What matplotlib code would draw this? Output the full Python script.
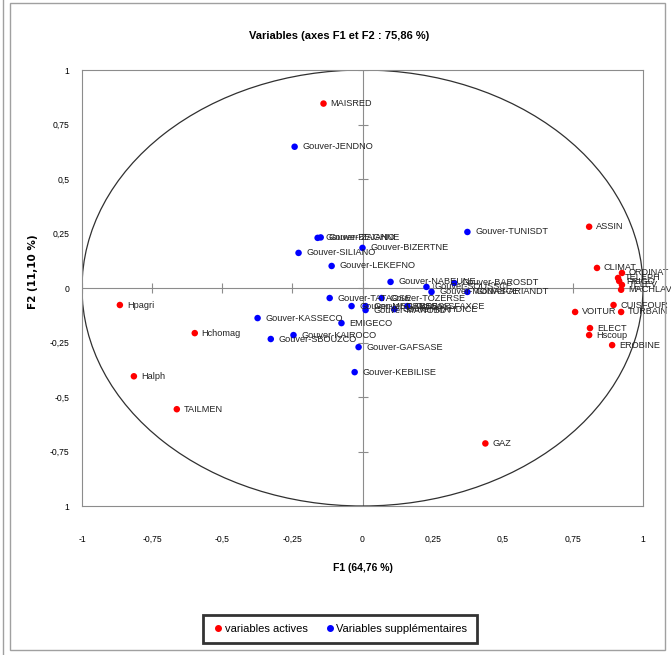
import numpy as np
import matplotlib.pyplot as plt
from matplotlib.patches import Ellipse, Rectangle
from matplotlib.lines import Line2D

# Active variables (red)
act_names = ["MAISRED", "ASSIN", "CLIMAT", "ORDINAT", "TELEPH", "FRIGO", "TELEV",
             "MACHLAV", "CUISFOUR", "TURBAIN", "VOITUR", "ELECT", "Hscoup",
             "EROBINE", "GAZ", "Hpagri", "Hchomag", "Halph", "TAILMEN"]
act_x = [-0.139, 0.808, 0.836, 0.925, 0.911, 0.915, 0.925, 0.922, 0.895, 0.922,
         0.758, 0.811, 0.808, 0.890, 0.438, -0.865, -0.598, -0.815, -0.662]
act_y = [0.846, 0.281, 0.092, 0.069, 0.046, 0.032, 0.014, -0.008, -0.078, -0.110,
         -0.110, -0.184, -0.216, -0.262, -0.713, -0.078, -0.207, -0.405, -0.556]

# Supplementary variables (blue)
sup_names = ["Gouver-JENDNO", "Gouver-BEJANO", "Gouver-ZAGHNE", "Gouver-BIZERTNE",
             "Gouver-SILIANO", "Gouver-LEKEFNO", "Gouver-TUNISDT", "Gouver-NABEUNE",
             "Gouver-SOUSSCE", "Gouver-MONASCE", "Gouver-BAROSDT", "Gouver-ARIANDT",
             "Gouver-TATAOSE", "Gouver-MEDENSE", "Gouver-GABESSE", "Gouver-TOZERSE",
             "Gouver-MAHDICE", "Gouver-SFAXCE", "Gouver-MANOBDT", "Gouver-KASSECO",
             "Gouver-SBOUZCO", "Gouver-KAIROCO", "EMIGECO", "Gouver-GAFSASE",
             "Gouver-KEBILISE"]
sup_x = [-0.242, -0.160, -0.149, 0.000, -0.228, -0.110, 0.374, 0.100, 0.228, 0.246,
         0.327, 0.374, -0.117, -0.039, 0.011, 0.068, 0.114, 0.160, 0.011, -0.374,
         -0.327, -0.246, -0.075, -0.014, -0.028]
sup_y = [0.648, 0.230, 0.232, 0.184, 0.161, 0.101, 0.257, 0.028, 0.005, -0.018,
         0.023, -0.018, -0.046, -0.083, -0.083, -0.046, -0.097, -0.083, -0.101, -0.138,
         -0.234, -0.216, -0.161, -0.271, -0.386]

ticks = [-1, -0.75, -0.5, -0.25, 0, 0.25, 0.5, 0.75, 1]
xtick_labels = ["-1", "-0,75", "-0,5", "-0,25", "0", "0,25", "0,5", "0,75", "1"]
ytick_labels = ["1", "-0,75", "-0,5", "-0,25", "0", "0,25", "0,5", "0,75", "1"]

FONT = ["Liberation Sans", "DejaVu Sans"]

fig = plt.figure(figsize=(6.71, 6.55), dpi=100)
W, H = 671, 655

# outer frames
fig.patches.append(Rectangle((10 / W, 1 - 650 / H), 655 / W, 647 / H,
                             transform=fig.transFigure, fill=False,
                             edgecolor="#a0a0a0", lw=1.0))
fig.lines.append(Line2D([3 / W, 3 / W], [0, 1], transform=fig.transFigure,
                        color="#a0a0a0", lw=1.0))

ax = fig.add_axes([82 / W, 1 - 506 / H, 561 / W, 436 / H])
ax.set_xlim(-1, 1)
ax.set_ylim(-1, 1)
for sp in ax.spines.values():
    sp.set_color("#8c8c8c")
    sp.set_linewidth(0.8)

# zero lines with small tick marks
ax.axhline(0, color="#8c8c8c", lw=0.8, zorder=1)
ax.axvline(0, color="#8c8c8c", lw=0.8, zorder=1)
ax.plot(ticks, [0] * len(ticks), ls="none", marker="|", ms=7, color="#8c8c8c",
        mew=0.8, zorder=1)
ax.plot([0] * len(ticks), ticks, ls="none", marker="_", ms=7, color="#8c8c8c",
        mew=0.8, zorder=1)

# correlation circle
ax.add_patch(Ellipse((0, 0), 2, 2, fill=False, edgecolor="#303030", lw=0.9,
                     zorder=2))

ax.scatter(act_x, act_y, s=22, color="#ff0000", zorder=4, edgecolors="none")
ax.scatter(sup_x, sup_y, s=22, color="#0000ff", zorder=4, edgecolors="none")

for n, x, y in zip(act_names, act_x, act_y):
    ax.annotate(n, (x, y), xytext=(5, 0), textcoords="offset points",
                va="center", ha="left", fontsize=6.6, family=FONT,
                color="#222222", annotation_clip=False, zorder=5)
for n, x, y in zip(sup_names, sup_x, sup_y):
    ax.annotate(n, (x, y), xytext=(5.5, 0), textcoords="offset points",
                va="center", ha="left", fontsize=6.6, family=FONT,
                color="#222222", annotation_clip=False, zorder=5)

ax.set_xticks(ticks)
ax.set_xticklabels(xtick_labels, family=FONT, fontsize=6.2)
ax.set_yticks(ticks)
ax.set_yticklabels(ytick_labels, family=FONT, fontsize=6.2)
ax.tick_params(axis="x", length=0, pad=21)
ax.tick_params(axis="y", length=0, pad=9)

fig.text(339 / W, 1 - 36 / H, "Variables (axes F1 et F2 : 75,86 %)", ha="center",
         va="center", fontsize=8, fontweight="bold", family=FONT)
fig.text(363 / W, 1 - 568 / H, "F1 (64,76 %)", ha="center", va="center",
         fontsize=7.5, fontweight="bold", family=FONT)
fig.text(33 / W, 1 - 272 / H, "F2 (11,10 %)", ha="center", va="center",
         rotation=90, fontsize=7.5, fontweight="bold", family="DejaVu Sans")

# legend
handles = [Line2D([], [], ls="none", marker="o", ms=4, color="#ff0000"),
           Line2D([], [], ls="none", marker="o", ms=4, color="#0000ff")]
leg = fig.legend(handles, ["variables actives", "Variables supplémentaires"],
                 loc="center", bbox_to_anchor=(340 / W, 1 - 629 / H), ncol=2,
                 frameon=True, fancybox=False, prop={"family": FONT, "size": 8},
                 handletextpad=0.1, columnspacing=1.5, handlelength=1.0,
                 borderpad=0.85, borderaxespad=0)
leg.get_frame().set_edgecolor("black")
leg.get_frame().set_linewidth(2.0)

fig.savefig("out.png", dpi=100)
